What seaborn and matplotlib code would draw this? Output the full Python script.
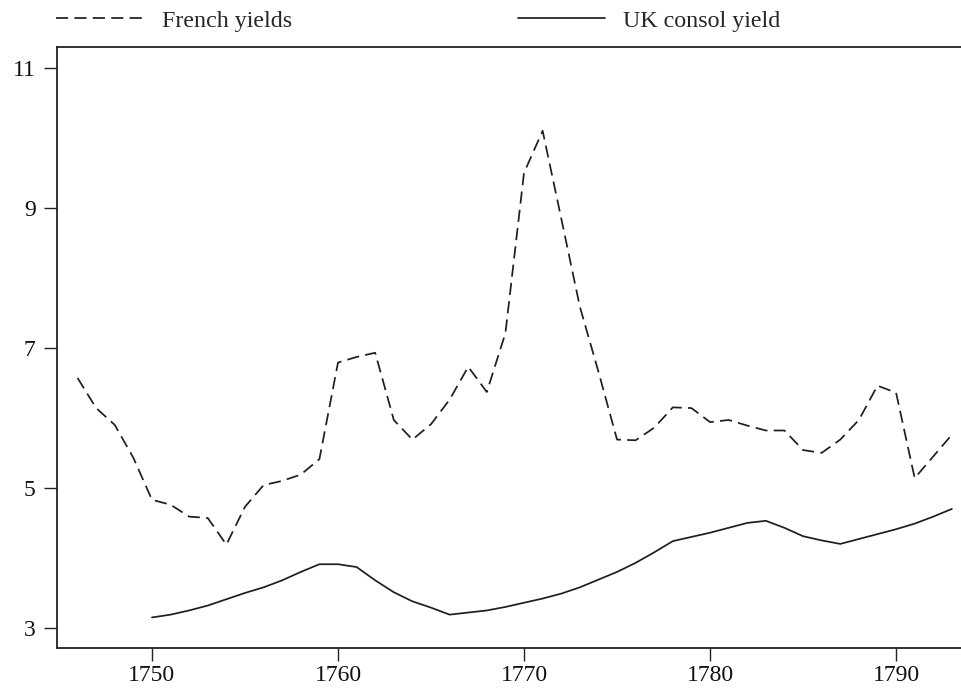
import numpy as np
import pandas as pd
import seaborn as sns
import matplotlib
matplotlib.use('Agg')
import matplotlib.pyplot as plt

# values
french_years = list(range(1746, 1794))
french_yields = [6.57, 6.14, 5.90, 5.43, 4.83, 4.76, 4.59, 4.57, 4.19, 4.73,
                 5.04, 5.10, 5.19, 5.41, 6.79, 6.87, 6.93, 5.97, 5.69, 5.91,
                 6.26, 6.73, 6.37, 7.21, 9.50, 10.10, 8.85, 7.59, 6.66, 5.69,
                 5.68, 5.86, 6.15, 6.14, 5.94, 5.97, 5.89, 5.82, 5.82, 5.54,
                 5.50, 5.69, 5.97, 6.46, 6.36, 5.14, 5.45, 5.76]

uk_years = list(range(1750, 1794))
uk_consol = [3.15, 3.19, 3.25, 3.32, 3.41, 3.50, 3.58, 3.68, 3.80, 3.91,
             3.91, 3.87, 3.68, 3.51, 3.38, 3.29, 3.19, 3.22, 3.25, 3.30,
             3.36, 3.42, 3.49, 3.58, 3.69, 3.80, 3.93, 4.08, 4.24, 4.30,
             4.36, 4.43, 4.50, 4.53, 4.43, 4.31, 4.25, 4.20, 4.27, 4.34,
             4.41, 4.49, 4.59, 4.70]

y_ticks = [3, 5, 7, 9, 11]
x_ticks = [1750, 1760, 1770, 1780, 1790]

sns.set_style('white')
plt.rcParams['font.family'] = ['Liberation Serif', 'DejaVu Serif']
plt.rcParams['axes.unicode_minus'] = False

fr = pd.DataFrame({'year': french_years, 'yield': french_yields})
uk = pd.DataFrame({'year': uk_years, 'yield': uk_consol})

fig = plt.figure(figsize=(9.61, 6.96), dpi=100)
ax = fig.add_axes([0.0596, 0.069, 0.9404, 0.8628])

col = '#1e1e1e'
sns.lineplot(data=fr, x='year', y='yield', ax=ax, color=col, lw=1.25,
             linestyle=(0, (7, 3.6)), label='French yields')
sns.lineplot(data=uk, x='year', y='yield', ax=ax, color=col, lw=1.25,
             label='UK consol yield')

ax.set_xlim(1744.91, 1793.49)
ax.set_ylim(2.714, 11.29)
ax.set_xticks(x_ticks)
ax.set_yticks(y_ticks)
ax.set_xlabel('')
ax.set_ylabel('')
ax.spines['right'].set_visible(False)
for s in ['left', 'bottom', 'top']:
    ax.spines[s].set_color('#222222')
    ax.spines[s].set_linewidth(1.3)
ax.tick_params(axis='both', direction='out', length=9.5, width=1.0,
               color='#222222', labelsize=17, labelcolor='#111111')
ax.tick_params(axis='y', pad=6)
ax.tick_params(axis='x', pad=2.5)
ax.tick_params(left=True, bottom=True)

handles, labels = ax.get_legend_handles_labels()
ax.get_legend().remove()
fig.legend(handles, labels, loc='center left', bbox_to_anchor=(56 / 961, 1 - 21 / 696),
           ncol=2, frameon=False, fontsize=17.3, handlelength=3.65, handletextpad=0.75,
           columnspacing=9.4, borderpad=0, borderaxespad=0)

fig.savefig('out.png', dpi=100)
